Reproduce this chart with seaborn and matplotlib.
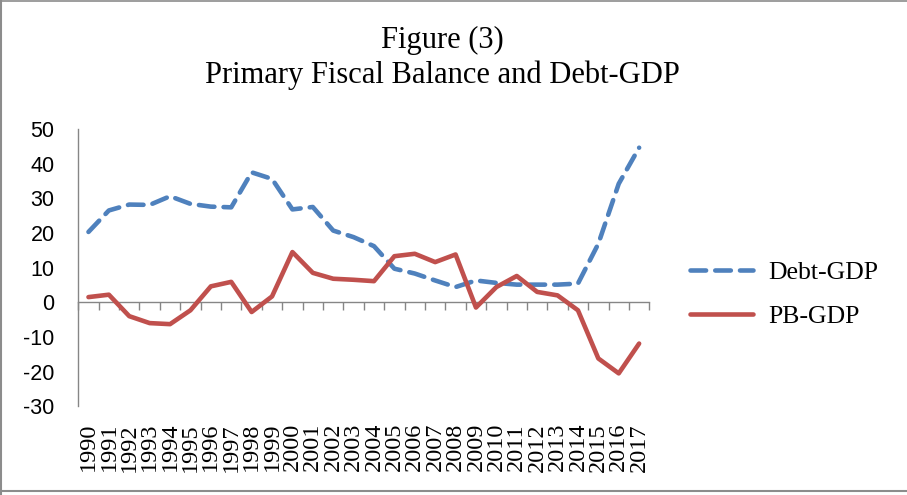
import matplotlib
matplotlib.use("Agg")
import matplotlib.pyplot as plt
from matplotlib.lines import Line2D
import seaborn as sns
import numpy as np
import pandas as pd

years = list(range(1990, 2018))
debt_gdp = [20.3, 26.5, 28.2, 28.1, 30.6, 28.4, 27.6, 27.4, 37.5, 35.6,
            26.8, 27.5, 20.7, 18.8, 16.2, 9.7, 8.3, 6.3, 4.4, 6.3,
            5.6, 5.1, 5.1, 5.1, 5.4, 16.9, 34.2, 44.6]
pb_gdp = [1.5, 2.2, -4.0, -6.0, -6.3, -2.3, 4.6, 5.9, -2.8, 1.7,
          14.5, 8.5, 6.8, 6.5, 6.1, 13.3, 14.0, 11.6, 13.8, -1.5,
          4.4, 7.6, 3.0, 2.0, -2.3, -16.2, -20.5, -11.9]
series_names = ["Debt-GDP", "PB-GDP"]
yticks = list(range(-30, 60, 10))
title_lines = ["Figure (3)", "Primary Fiscal Balance and Debt-GDP"]

df = pd.DataFrame({
    "Year": years * 2,
    "Value": debt_gdp + pb_gdp,
    "Series": [series_names[0]] * len(years) + [series_names[1]] * len(years),
})

sns.set_style("white")
plt.rcParams["font.family"] = ["Liberation Serif", "DejaVu Serif"]
plt.rcParams["text.color"] = "black"
plt.rcParams["xtick.color"] = "black"
plt.rcParams["ytick.color"] = "black"

GRAY = "#868686"
BLUE = "#4F81BD"
RED = "#C0504D"

fig = plt.figure(figsize=(9.07, 4.95), dpi=100)
ax = fig.add_axes([0.0863, 0.1792, 0.6296, 0.5602])

sns.lineplot(data=df, x="Year", y="Value", hue="Series", style="Series",
             palette={series_names[0]: BLUE, series_names[1]: RED},
             dashes={series_names[0]: (3.4, 2.0), series_names[1]: ""},
             linewidth=3.3, ax=ax, legend=False)
for ln in ax.lines:
    ln.set_dash_capstyle("round")
    ln.set_solid_capstyle("round")
    ln.set_dash_joinstyle("round")
    ln.set_solid_joinstyle("round")

ymin, ymax = yticks[0], yticks[-1]
ax.set_ylim(ymin, ymax)
ax.set_xlim(years[0] - 0.5, years[-1] + 0.5)
ax.set_yticks(yticks)
ax.set_yticklabels([str(v) for v in yticks], family=["Liberation Sans", "DejaVu Sans"],
                   fontsize=15.5, color="black")
ax.set_xticks(years)
ax.set_xticklabels([str(y) for y in years], rotation=90, fontsize=17.5,
                   family=["Liberation Serif", "DejaVu Serif"], color="black")
ax.tick_params(axis="x", length=0, pad=12)
ax.tick_params(axis="y", direction="out", length=6, width=1, color=GRAY, pad=11)
ax.set_xlabel("")
ax.set_ylabel("")
for s in ["top", "right", "bottom"]:
    ax.spines[s].set_visible(False)
ax.spines["left"].set_color(GRAY)
ax.spines["left"].set_linewidth(1)

# zero axis with category boundary ticks
zero_pos = (0 - ymin) / (ymax - ymin)
sec = ax.secondary_xaxis(zero_pos)
sec.set_xticks(np.arange(years[0] - 0.5, years[-1] + 1.0, 1.0))
sec.set_xticklabels([])
sec.tick_params(direction="out", length=6, width=1, color=GRAY)
for s in sec.spines.values():
    s.set_color(GRAY)
    s.set_linewidth(1)

fig.legend(handles=ax.lines[:2], labels=series_names, loc="center left",
           bbox_to_anchor=(0.7607, 0.405), frameon=False, fontsize=18.5,
           handlelength=2.45, handletextpad=0.6, labelspacing=0.85,
           borderpad=0, borderaxespad=0)

fig.text(0.488, 0.947, "\n".join(title_lines), ha="center", va="top",
         fontsize=22, linespacing=1.22)

# figure border
fig.add_artist(Line2D([0.0015, 0.0015], [0.0, 1.0], color="#8c8c8c", lw=1.5, transform=fig.transFigure))
fig.add_artist(Line2D([0.0, 1.0], [0.997, 0.997], color="#8c8c8c", lw=1.2, transform=fig.transFigure))
fig.add_artist(Line2D([0.0, 1.0], [0.0085, 0.0085], color="#8c8c8c", lw=1.5, transform=fig.transFigure))

fig.savefig("out.png", dpi=100)
